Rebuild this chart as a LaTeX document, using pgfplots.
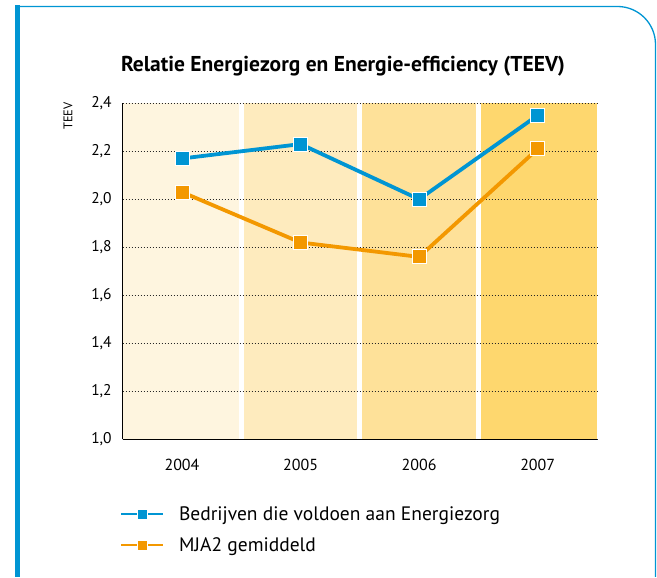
\documentclass[border=0pt]{standalone}
\usepackage{fontspec}
\setmainfont{PT Sans}
\usepackage{pgfplots}
\pgfplotsset{compat=1.18}
\definecolor{cblue}{HTML}{0095D3}
\definecolor{corange}{HTML}{F39800}
\definecolor{bandA}{HTML}{FEF5DF}
\definecolor{bandB}{HTML}{FEEBBE}
\definecolor{bandC}{HTML}{FEE199}
\definecolor{bandD}{HTML}{FED76E}
\begin{document}
\begin{tikzpicture}
\path (0pt,0pt) rectangle (657pt,577pt);
\fill[cblue] (14.5pt,0pt) rectangle (19.5pt,572pt);
\draw[cblue, line width=1.3pt, rounded corners=38pt] (19pt,570.5pt) -- (655.5pt,570.5pt) -- (655.5pt,0pt);
\node[font=\bfseries\fontsize{21.5}{25}\selectfont] at (343pt,511pt) {Relatie Energiezorg en Energie-efficiency (TEEV)};
\node[rotate=90, font=\fontsize{12.5}{14}\selectfont] at (68pt,461pt) {TEEV};
\begin{axis}[
  set layers,
  at={(122.7pt,137.7pt)}, anchor=south west,
  width=474.3pt, height=336pt, scale only axis,
  xmin=-0.5, xmax=3.5, ymin=1, ymax=2.4,
  xtick={0,1,2,3}, xticklabels={2004,2005,2006,2007},
  ytick={1,1.2,1.4,1.6,1.8,2,2.2,2.4},
  yticklabel style={font=\fontsize{15.5}{17}\selectfont, /pgf/number format/fixed, /pgf/number format/fixed zerofill, /pgf/number format/precision=1, /pgf/number format/use comma, /pgf/number format/assume math mode=true, xshift=-7.5pt},
  xticklabel style={font=\fontsize{16}{18}\selectfont, yshift=-16pt},
  axis x line*=bottom, axis y line*=left,
  axis line style={line width=1.2pt, black},
  major tick length=0pt,
  ymajorgrids,
  grid style={black!85, line width=1.1pt, dash pattern=on 1.2pt off 1.8pt},
  legend cell align=left,
  legend style={draw=none, fill=none, at={(-0.006,-0.187)}, anchor=north west, font=\fontsize{19.5}{23}\selectfont, row sep=12pt, column sep=13pt, inner xsep=0pt},
  legend image code/.code={\draw[mark repeat=2, mark phase=2, line width=2pt, mark size=5pt] plot coordinates {(0pt,0pt) (21pt,0pt) (42pt,0pt)};},
]
\addplot[on layer=axis background, fill=bandA, draw=none, forget plot] coordinates {(-0.5,1) (0.48,1) (0.48,2.4) (-0.5,2.4)} -- cycle;
\addplot[on layer=axis background, fill=bandB, draw=none, forget plot] coordinates {(0.52,1) (1.48,1) (1.48,2.4) (0.52,2.4)} -- cycle;
\addplot[on layer=axis background, fill=bandC, draw=none, forget plot] coordinates {(1.52,1) (2.48,1) (2.48,2.4) (1.52,2.4)} -- cycle;
\addplot[on layer=axis background, fill=bandD, draw=none, forget plot] coordinates {(2.52,1) (3.5,1) (3.5,2.4) (2.52,2.4)} -- cycle;
\addplot[cblue, line width=3.8pt, mark=square*, mark size=7pt, mark options={fill=cblue, draw=white, line width=0.8pt}] coordinates {(0,2.17) (1,2.23) (2,2.00) (3,2.35)};
\addlegendentry{Bedrijven die voldoen aan Energiezorg}
\addplot[corange, line width=3.8pt, mark=square*, mark size=7pt, mark options={fill=corange, draw=white, line width=0.8pt}] coordinates {(0,2.03) (1,1.82) (2,1.76) (3,2.21)};
\addlegendentry{MJA2 gemiddeld}
\end{axis}
\end{tikzpicture}
\end{document}
